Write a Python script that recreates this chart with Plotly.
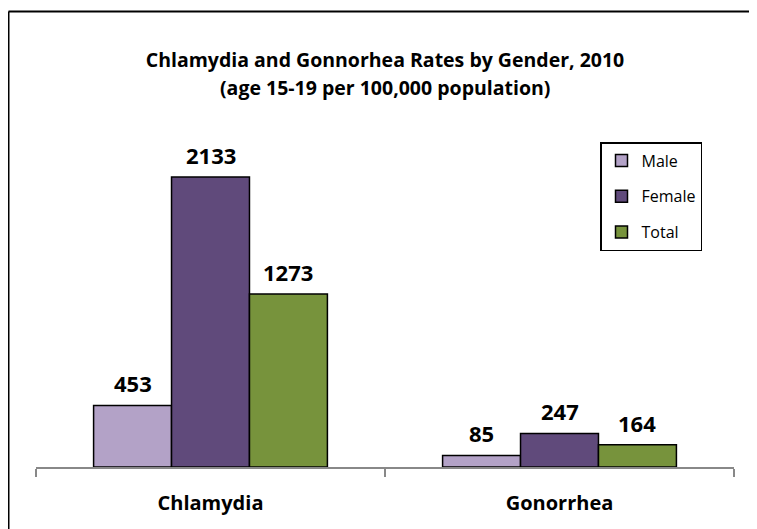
import plotly.graph_objects as go

categories = ["Chlamydia", "Gonorrhea"]
male = [453, 85]
female = [2133, 247]
total = [1273, 164]
series_names = ["Male", "Female", "Total"]
colors = ["#B3A2C7", "#604A7B", "#77933C"]
title_line1 = "Chlamydia and Gonnorhea Rates by Gender, 2010"
title_line2 = "(age 15-19 per 100,000 population)"

W, H = 757, 529
ml, mr, mt, mb = 28, 31, 92, 70
pw, ph = W - ml - mr, H - mt - mb
FONT = "Open Sans"
bargap = 0.33
bar_px = pw / len(categories) * (1 - bargap) / 3

fig = go.Figure()
annotations = []
for i, (name, vals, col) in enumerate(zip(series_names, [male, female, total], colors)):
    fig.add_trace(go.Bar(
        x=categories, y=vals, name=name, legendgroup=name,
        marker=dict(color=col, line=dict(color="black", width=1.5)),
    ))
    for c, v in zip(categories, vals):
        annotations.append(dict(
            x=c, y=v, xref="x", yref="y", text=str(v), showarrow=False,
            xanchor="center", yanchor="bottom", xshift=(i - 1) * bar_px, yshift=5,
            font=dict(family=FONT, size=22, color="black", weight="bold"),
        ))

annotations.append(dict(
    x=0.5, y=(H - mb - 80) / ph, xref="paper", yref="paper", text=title_line2,
    showarrow=False, xanchor="center", yanchor="middle",
    font=dict(family=FONT, size=19.5, color="black", weight="bold"),
))

# frame lines (left and top edges of the chart border)
x_left = (0.5 - ml) / pw
y_top = (H - mb - 3.5) / ph
frame = [
    dict(type="line", xref="paper", yref="paper", x0=x_left, x1=x_left,
         y0=y_top, y1=(H - mb - (H + 30)) / ph, line=dict(color="black", width=2)),
    dict(type="line", xref="paper", yref="paper", x0=x_left, x1=(W + 30 - ml) / pw,
         y0=y_top, y1=y_top, line=dict(color="black", width=2)),
]

fig.update_layout(
    width=W, height=H,
    margin=dict(l=ml, r=mr, t=mt, b=mb, autoexpand=False),
    paper_bgcolor="white", plot_bgcolor="white",
    barmode="group", bargap=bargap, bargroupgap=0,
    title=dict(
        text=title_line1,
        x=(28 + pw / 2) / W, xanchor="center", y=1 - 52 / H, yanchor="middle",
        font=dict(family=FONT, size=19.5, color="black", weight="bold"),
    ),
    font=dict(family=FONT),
    showlegend=True,
    legend=dict(
        x=(592 - ml) / pw, y=(H - mb - 134) / ph, xanchor="left", yanchor="top",
        bordercolor="black", borderwidth=1.5, bgcolor="white",
        font=dict(family=FONT, size=16, color="black"),
        tracegroupgap=12, traceorder="grouped",
    ),
    xaxis=dict(
        showline=True, linecolor="#888888", linewidth=1.5, automargin=False,
        ticks="outside", tickson="boundaries", ticklen=8, tickcolor="#888888", tickwidth=1.5,
        tickfont=dict(family=FONT, size=20, color="black", weight="bold"),
        ticklabelstandoff=17,
        showgrid=False,
    ),
    yaxis=dict(range=[0, 2700], visible=False, showgrid=False, automargin=False),
    annotations=annotations,
    shapes=frame,
)

fig.write_html("out.html")
